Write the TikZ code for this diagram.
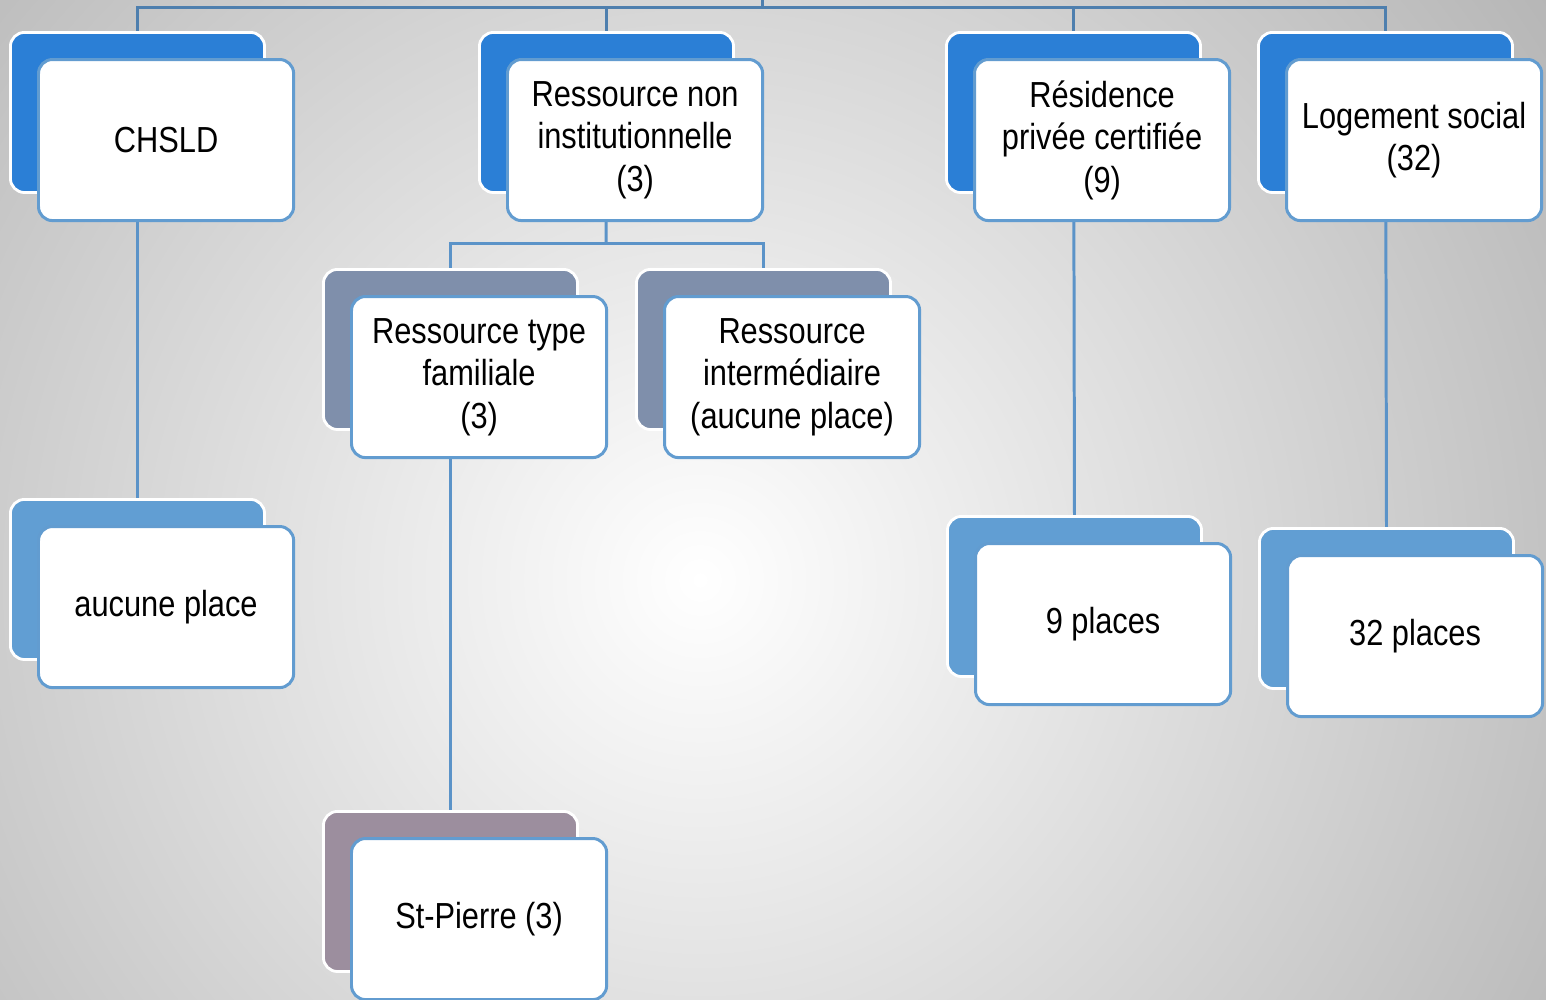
\documentclass[tikz,border=0pt]{standalone}
\usepackage{fontspec}
\setmainfont{Liberation Sans}[FakeStretch=0.85]
\pgfdeclarelayer{bg}
\pgfdeclarelayer{lines}
\pgfsetlayers{bg,lines,main}
\definecolor{topblue}{HTML}{2B7FD6}
\definecolor{frontline}{HTML}{629CD0}
\definecolor{slate}{HTML}{7F8FAB}
\definecolor{lightblue}{HTML}{619ED3}
\definecolor{mauve}{HTML}{9C8E9E}
\definecolor{railcol}{HTML}{4E7FAE}
\definecolor{linkcol}{HTML}{5B93C8}
\tikzset{
  backbox/.style={draw=white, line width=0.8pt, rounded corners=4pt, minimum width=2.54cm, minimum height=1.6cm, anchor=north west, inner sep=0pt},
  frontbox/.style={draw=frontline, fill=white, line width=0.85pt, rounded corners=4pt, minimum width=2.55cm, minimum height=1.61cm, anchor=north west, inner sep=0pt, align=center, font=\fontsize{10.3}{12.1}\selectfont},
  link/.style={draw=linkcol, line width=0.85pt},
  rail/.style={draw=railcol, line width=0.85pt}
}
\newcommand{\pairbox}[5]{%
  \node[backbox, fill=#4] (#1b) at (#2,#3) {};
  \node[frontbox] (#1) at (#2+28,#3+27) {#5};
}
\begin{document}
\begin{tikzpicture}[x=0.01cm, y=-0.01cm]
\useasboundingbox (0,0) rectangle (1546,999);
\begin{pgfonlayer}{bg}
  \clip (0,0) rectangle (1546,999);
  \fill[black!32] (0,0) rectangle (1546,999);
  \shade[inner color=white, outer color=black!32] (700,580) circle (1150);
\end{pgfonlayer}

\pairbox{chsld}{9}{31}{topblue}{CHSLD}
\pairbox{rni}{478}{31}{topblue}{Ressource non\\institutionnelle\\(3)}
\pairbox{rpc}{945}{31}{topblue}{Résidence\\privée certifiée\\(9)}
\pairbox{log}{1257}{31}{topblue}{Logement social\\(32)}
\pairbox{rtf}{322}{268}{slate}{Ressource type\\familiale\\(3)}
\pairbox{ri}{635}{268}{slate}{Ressource\\intermédiaire\\(aucune place)}
\pairbox{auc}{9}{498}{lightblue}{aucune place}
\pairbox{nine}{946}{515}{lightblue}{9 places}
\pairbox{tt}{1258}{527}{lightblue}{32 places}
\pairbox{stp}{322}{810}{mauve}{St-Pierre (3)}

\coordinate (top) at (762,0);
\coordinate (split) at (606,243);
\begin{pgfonlayer}{lines}
  \draw[rail] (chsldb.north) -- (chsldb.north |- 0,7) -- (logb.north |- 0,7) -- (logb.north);
  \draw[rail] (top) -- (top |- 0,7);
  \draw[rail] (rnib.north) -- (rnib.north |- 0,7);
  \draw[rail] (rpcb.north) -- (rpcb.north |- 0,7);
  \draw[link] (chsldb.north) -- (aucb.north);
  \draw[link] (rpcb.north) -- (nineb.north);
  \draw[link] (logb.north) -- (ttb.north);
  \draw[link] (rnib.north) -- (split);
  \draw[link] (rtfb.north) -- (rtfb.north |- split) -- (rib.north |- split) -- (rib.north);
  \draw[link] (rtfb.north) -- (stpb.north);
\end{pgfonlayer}
\end{tikzpicture}
\end{document}
